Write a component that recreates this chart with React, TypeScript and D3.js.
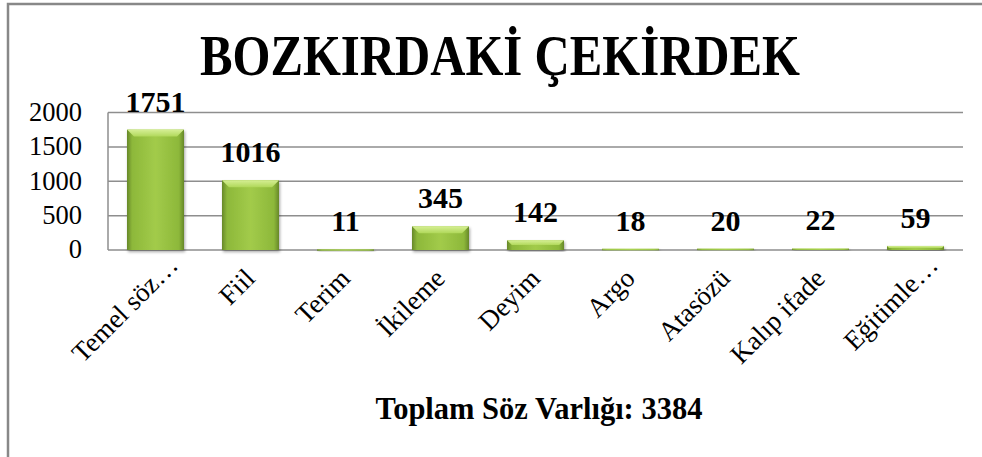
import React, {useEffect, useRef} from 'react';
import * as d3 from 'd3';

// chart data
const categories = [
  'Temel söz…',
  'Fiil',
  'Terim',
  'İkileme',
  'Deyim',
  'Argo',
  'Atasözü',
  'Kalıp ifade',
  'Eğitimle…',
];
const counts = [1751, 1016, 11, 345, 142, 18, 20, 22, 59];
const yTicks = [0, 500, 1000, 1500, 2000];
const title = 'BOZKIRDAKİ ÇEKİRDEK';
const axisTitle = 'Toplam Söz Varlığı: 3384';

const W = 982;
const H = 457;
const FONT = '"Liberation Serif", serif';

const App: React.FC = () => {
  const svgRef = useRef<SVGSVGElement>(null);

  useEffect(() => {
    const root = d3.select(svgRef.current);
    root.selectAll('*').remove();

    const margin = {top: 112.5, right: 19, bottom: 207, left: 108};
    const innerW = W - margin.left - margin.right;
    const innerH = H - margin.top - margin.bottom;

    const defs = root.append('defs');
    const side = defs
      .append('linearGradient')
      .attr('id', 'barSide')
      .attr('x1', '0%')
      .attr('x2', '100%');
    side.append('stop').attr('offset', '0%').attr('stop-color', '#67882a');
    side.append('stop').attr('offset', '9%').attr('stop-color', '#8db83a');
    side.append('stop').attr('offset', '50%').attr('stop-color', '#a2cb4a');
    side.append('stop').attr('offset', '91%').attr('stop-color', '#8db83a');
    side.append('stop').attr('offset', '100%').attr('stop-color', '#67882a');
    const topG = defs
      .append('linearGradient')
      .attr('id', 'barTop')
      .attr('x1', '0%')
      .attr('x2', '0%')
      .attr('y1', '0%')
      .attr('y2', '100%');
    topG.append('stop').attr('offset', '0%').attr('stop-color', '#d6ef95');
    topG.append('stop').attr('offset', '100%').attr('stop-color', '#b0d85a');
    const shadow = defs
      .append('filter')
      .attr('id', 'shadow')
      .attr('x', '-20%')
      .attr('y', '-20%')
      .attr('width', '140%')
      .attr('height', '140%');
    shadow
      .append('feDropShadow')
      .attr('dx', 1)
      .attr('dy', 2)
      .attr('stdDeviation', 1.5)
      .attr('flood-color', '#000')
      .attr('flood-opacity', 0.35);

    // outer frame
    root
      .append('rect')
      .attr('x', 8)
      .attr('y', 4)
      .attr('width', W + 40)
      .attr('height', H + 40)
      .attr('fill', '#fff')
      .attr('stroke', '#888')
      .attr('stroke-width', 2.5);

    root
      .append('text')
      .attr('x', 500)
      .attr('y', 75)
      .attr('text-anchor', 'middle')
      .attr('font-family', FONT)
      .attr('font-weight', 'bold')
      .attr('font-size', 57)
      .attr('textLength', 600)
      .attr('lengthAdjust', 'spacingAndGlyphs')
      .text(title);

    const g = root
      .append('g')
      .attr('transform', `translate(${margin.left},${margin.top})`);

    const x = d3.scaleBand().domain(categories).range([0, innerW]).paddingInner(0.4).paddingOuter(0.2);
    const y = d3.scaleLinear().domain([0, 2000]).range([innerH, 0]);

    // gridlines
    g.selectAll('.grid')
      .data(yTicks)
      .enter()
      .append('line')
      .attr('x1', 0)
      .attr('x2', innerW)
      .attr('y1', (d) => y(d))
      .attr('y2', (d) => y(d))
      .attr('stroke', '#8e8e8e')
      .attr('stroke-width', 1.5);
    g.append('line')
      .attr('x1', 0)
      .attr('x2', 0)
      .attr('y1', 0)
      .attr('y2', innerH)
      .attr('stroke', '#8e8e8e')
      .attr('stroke-width', 1.5);

    // y tick labels
    g.selectAll('.ytick')
      .data(yTicks)
      .enter()
      .append('text')
      .attr('x', -26)
      .attr('y', (d) => y(d))
      .attr('dy', '0.32em')
      .attr('text-anchor', 'end')
      .attr('font-family', FONT)
      .attr('font-size', 26.5)
      .text((d) => d);

    // bars
    const bars = g
      .selectAll('.bar')
      .data(counts)
      .enter()
      .append('g')
      .attr('filter', 'url(#shadow)');
    bars
      .append('rect')
      .attr('x', (d, i) => x(categories[i]))
      .attr('y', (d) => y(d))
      .attr('width', x.bandwidth())
      .attr('height', (d) => Math.max(innerH - y(d), 1.5))
      .attr('fill', 'url(#barSide)');
    // top bevel
    bars
      .append('path')
      .attr('d', (d, i) => {
        const x0 = x(categories[i]);
        const w = x.bandwidth();
        const t = y(d);
        const b = Math.min(7, (innerH - t) / 2);
        return `M${x0},${t}L${x0 + w},${t}L${x0 + w - b},${t + b}L${x0 + b},${t + b}Z`;
      })
      .attr('fill', 'url(#barTop)');

    // data labels
    g.selectAll('.val')
      .data(counts)
      .enter()
      .append('text')
      .attr('x', (d, i) => x(categories[i]) + x.bandwidth() / 2)
      .attr('y', (d) => y(d) - 18)
      .attr('text-anchor', 'middle')
      .attr('font-family', FONT)
      .attr('font-weight', 'bold')
      .attr('font-size', 30)
      .text((d) => d);

    // category labels
    g.selectAll('.xlab')
      .data(categories)
      .enter()
      .append('text')
      .attr('transform', (d) => {
        const cx = x(d) + x.bandwidth() / 2;
        const trunc = d.endsWith('…');
        const ox = trunc ? 24 : 6;
        const oy = trunc ? 17 : 30;
        return `translate(${cx + ox},${innerH + oy}) rotate(-45)`;
      })
      .attr('text-anchor', 'end')
      .attr('font-family', FONT)
      .attr('font-size', 27)
      .text((d) => d);

    root
      .append('text')
      .attr('x', 539)
      .attr('y', 419)
      .attr('text-anchor', 'middle')
      .attr('font-family', FONT)
      .attr('font-weight', 'bold')
      .attr('font-size', 30.5)
      .text(axisTitle);
  }, []);

  return (
    <svg
      ref={svgRef}
      width={W}
      height={H}
      style={{position: 'absolute', left: 0, top: 0, background: '#fff'}}
    />
  );
};

export default App;
